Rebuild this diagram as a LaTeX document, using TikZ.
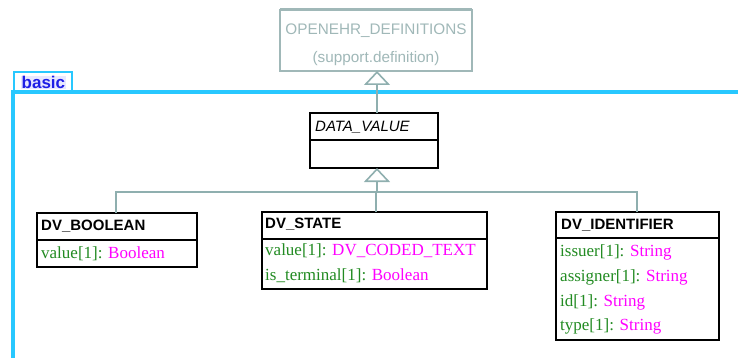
\documentclass[tikz,border=0pt]{standalone}
\usepackage{fontspec}
\setmainfont{Liberation Serif}
\setsansfont{Liberation Sans}
\usetikzlibrary{arrows.meta}
\definecolor{pkgcyan}{RGB}{40,200,255}
\definecolor{conncol}{RGB}{143,175,175}
\definecolor{oecol}{RGB}{160,184,184}
\definecolor{attrgreen}{RGB}{34,139,34}
\definecolor{attrmag}{RGB}{255,0,255}
\definecolor{pkgblue}{RGB}{30,30,230}
\definecolor{tabfill}{RGB}{232,232,255}
\newcommand{\an}[1]{\textcolor{attrgreen}{#1}}
\newcommand{\at}[1]{\textcolor{attrmag}{#1}}
\begin{document}
\begin{tikzpicture}[x=1pt,y=-1pt,
  umlbox/.style={draw=black, line width=1.4pt, fill=white, inner sep=0pt, outer sep=0pt, anchor=north west},
  hdr/.style={font=\sffamily\bfseries\fontsize{15}{18}\selectfont, inner sep=0pt, anchor=west},
  attr/.style={font=\rmfamily\fontsize{17}{20}\selectfont, inner sep=0pt, anchor=west},
  conn/.style={draw=conncol, line width=2pt},
  inh/.style={conn, -{Triangle[open, length=14pt, width=26pt, line width=1.6pt]}},
  pkg/.style={draw=pkgcyan, line width=4pt}
]
\useasboundingbox (0,0) rectangle (738,358);

% package frame
\draw[pkg] (13,360) -- (13,92) -- (740,92);
\node[draw=pkgcyan, line width=2pt, fill=white, inner sep=0pt, minimum width=58pt, minimum height=19pt, anchor=south west] (tab) at (13,92) {};
\node[font=\sffamily\bfseries\fontsize{17}{20}\selectfont, text=pkgblue, fill=tabfill, inner sep=0.5pt, anchor=west] (basiclbl) at (21,82.5) {basic};

% OPENEHR_DEFINITIONS
\node[draw=oecol, line width=1.5pt, fill=white, inner sep=0pt, outer sep=0pt, minimum width=192pt, minimum height=61pt, anchor=north west] (oe) at (280,10) {};
\draw[draw=oecol, line width=3pt] (oe.north west) -- (oe.north east);
\node[font=\sffamily\fontsize{15.3}{18}\selectfont, text=oecol, inner sep=0pt] (oet1) at (376,31) {OPENEHR\_DEFINITIONS};
\node[font=\sffamily\fontsize{15.3}{18}\selectfont, text=oecol, inner sep=0pt] (oet2) at (376,59) {(support.definition)};

% DATA_VALUE
\node[umlbox, minimum width=128pt, minimum height=55pt] (dv) at (310,113) {};
\draw[line width=1.4pt] (310,140) -- (438,140);
\node[font=\sffamily\itshape\fontsize{15}{18}\selectfont, inner sep=0pt, anchor=west] (dvt) at (315,127) {DATA\_VALUE};

% DV_BOOLEAN
\node[umlbox, minimum width=160pt, minimum height=54pt] (bool) at (37,213) {};
\draw[line width=1.4pt] (37,240) -- (197,240);
\node[hdr] (boolh) at (41,226) {DV\_BOOLEAN};
\node[attr] (boola) at (41,254) {\an{value[1]:} \at{Boolean}};

% DV_STATE
\node[umlbox, minimum width=225pt, minimum height=77pt] (state) at (262,212) {};
\draw[line width=1.4pt] (262,239) -- (487,239);
\node[hdr] (stateh) at (265,224) {DV\_STATE};
\node[attr] (statea1) at (265,251) {\an{value[1]:} \at{DV\_CODED\_TEXT}};
\node[attr] (statea2) at (265,276) {\an{is\_terminal[1]:} \at{Boolean}};

% DV_IDENTIFIER
\node[umlbox, minimum width=163pt, minimum height=128pt] (ident) at (556,212) {};
\draw[line width=1.4pt] (556,238) -- (719,238);
\node[hdr] (identh) at (561,225) {DV\_IDENTIFIER};
\node[attr] (identa1) at (560,252) {\an{issuer[1]:} \at{String}};
\node[attr] (identa2) at (560,277) {\an{assigner[1]:} \at{String}};
\node[attr] (identa3) at (560,302) {\an{id[1]:} \at{String}};
\node[attr] (identa4) at (560,326) {\an{type[1]:} \at{String}};

% connectors
\draw[inh] (dv.north -| 377,0) -- (oe.south -| 377,0);
\coordinate (j) at (377,192);
\draw[inh] (j) -- (dv.south -| j);
\draw[conn] (bool.north -| 116,0) |- (j);
\draw[conn] (ident.north -| 637,0) |- (j);
\draw[conn] (state.north -| 376,0) -- (376,192);
\end{tikzpicture}
\end{document}
